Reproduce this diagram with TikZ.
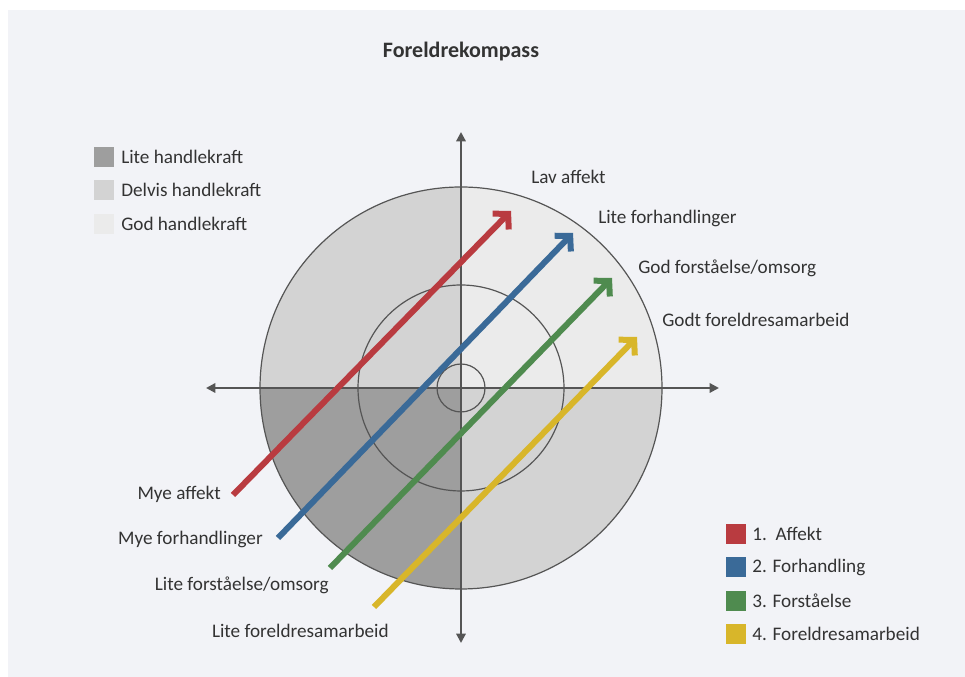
\documentclass[tikz,border=0pt]{standalone}
\usepackage{fontspec}
\setmainfont{Carlito}
\usetikzlibrary{arrows.meta}
\definecolor{panel}{HTML}{F2F3F7}
\definecolor{litec}{HTML}{9E9E9E}
\definecolor{delvisc}{HTML}{D3D3D3}
\definecolor{godc}{HTML}{EBEBEB}
\definecolor{axisc}{HTML}{555555}
\definecolor{txtc}{HTML}{333333}
\definecolor{redc}{HTML}{B93B40}
\definecolor{bluec}{HTML}{3A6A98}
\definecolor{greenc}{HTML}{4F8B4F}
\definecolor{yellowc}{HTML}{D8B62A}
\tikzset{
  lbl/.style={text=txtc, font=\fontsize{14.4}{16}\selectfont, inner sep=0pt},
  swatch/.style={minimum width=15pt, minimum height=15pt, inner sep=0pt, draw=none},
  axisline/.style={draw=axisc, line width=1.6pt, {Triangle[length=7pt,width=7pt]}-{Triangle[length=7pt,width=7pt]}},
  ring/.style={draw=axisc, line width=0.9pt},
  comp/.style={line width=4.5pt, -{Straight Barb[length=8pt,width=17pt]}, line cap=butt}
}
\begin{document}
\begin{tikzpicture}[x=0.75pt,y=0.75pt]
\useasboundingbox (0,0) rectangle (965,677);
\fill[white] (0,0) rectangle (965,677);
\fill[panel] (8,0) rectangle (965,667);
% quadrants
\coordinate (c) at (461,289);
\fill[delvisc] (c) -- (461,490) arc[start angle=90,end angle=180,radius=201] -- cycle;
\fill[litec] (c) -- (260,289) arc[start angle=180,end angle=270,radius=201] -- cycle;
\fill[godc] (c) -- (662,289) arc[start angle=0,end angle=90,radius=201] -- cycle;
\fill[delvisc] (c) -- (461,88) arc[start angle=270,end angle=360,radius=201] -- cycle;
% rings
\draw[ring] (c) circle[radius=201];
\draw[ring] (c) circle[radius=103];
\draw[ring] (c) circle[radius=24];
% axes
\coordinate (ytop) at (461,545);
\coordinate (ybot) at (461,34);
\coordinate (xl) at (206,289);
\coordinate (xr) at (719,289);
\draw[axisline] (ybot) -- (ytop);
\draw[axisline] (xl) -- (xr);
% title
\node[text=txtc, font=\fontsize{16.5}{18}\selectfont\bfseries] (title) at (461,625) {Foreldrekompass};
% compass arrows
\coordinate (r0) at (233,182); \coordinate (r1) at (511,466);
\coordinate (b0) at (278,139); \coordinate (b1) at (573,444);
\coordinate (g0) at (330,109); \coordinate (g1) at (612,399);
\coordinate (y0) at (374,70);  \coordinate (y1) at (637,340);
\draw[comp, redc] (r0) -- (r1);
\draw[comp, bluec] (b0) -- (b1);
\draw[comp, greenc] (g0) -- (g1);
\draw[comp, yellowc] (y0) -- (y1);
% end labels
\node[lbl, anchor=west] (lavaff) at (531,500) {Lav affekt};
\node[lbl, anchor=west] (litefor) at (598,459) {Lite forhandlinger};
\node[lbl, anchor=west] (godfor) at (638,409) {God forståelse/omsorg};
\node[lbl, anchor=west] (godtfs) at (662,357) {Godt foreldresamarbeid};
\node[lbl, anchor=east] (myeaff) at (221,183) {Mye affekt};
\node[lbl, anchor=east] (myefor) at (263,138) {Mye forhandlinger};
\node[lbl, anchor=east] (liteforst) at (329,92) {Lite forståelse/omsorg};
\node[lbl, anchor=east] (litefs) at (389,46) {Lite foreldresamarbeid};
% legend top-left
\node[swatch, fill=litec] (s1) at (104,520) {};
\node[swatch, fill=delvisc] (s2) at (104,487) {};
\node[swatch, fill=godc] (s3) at (104,453) {};
\node[lbl, anchor=west] (t1) at (121,520) {Lite handlekraft};
\node[lbl, anchor=west] (t2) at (121,487) {Delvis handlekraft};
\node[lbl, anchor=west] (t3) at (121,453) {God handlekraft};
% legend bottom-right
\node[swatch, fill=redc] (k1) at (736,143) {};
\node[swatch, fill=bluec] (k2) at (736,110) {};
\node[swatch, fill=greenc] (k3) at (736,76) {};
\node[swatch, fill=yellowc] (k4) at (736,43) {};
\node[lbl, anchor=west] (u1) at (752,143) {1.\ \ Affekt};
\node[lbl, anchor=west] (u2) at (752,110) {2. Forhandling};
\node[lbl, anchor=west] (u3) at (752,76) {3. Forståelse};
\node[lbl, anchor=west] (u4) at (752,43) {4. Foreldresamarbeid};
\end{tikzpicture}
\end{document}
